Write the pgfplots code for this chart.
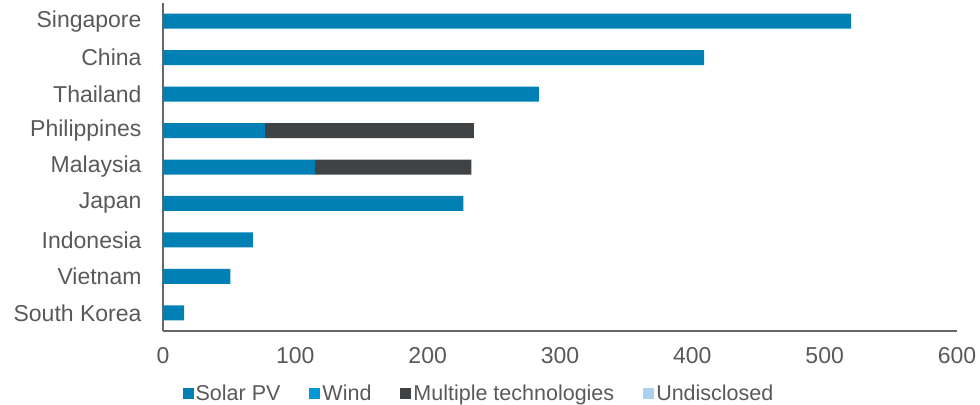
\documentclass[border=0pt]{standalone}
\usepackage{pgfplots}
\pgfplotsset{compat=1.18}
\usepackage{fontspec}
\setmainfont{Liberation Sans}
\definecolor{solar}{RGB}{0,128,180}
\definecolor{wind}{RGB}{0,153,214}
\definecolor{multi}{RGB}{64,67,69}
\definecolor{undis}{RGB}{171,209,238}
\definecolor{txt}{RGB}{89,89,89}
\definecolor{axl}{RGB}{100,104,108}
\begin{document}
\begin{tikzpicture}
\begin{axis}[
  name=ax,
  scale only axis,
  width=794pt, height=328pt,
  xbar stacked,
  bar width=15pt,
  xmin=0, xmax=600,
  ymin=-0.5, ymax=8.5,
  xtick={0,100,200,300,400,500,600},
  ytick={0,1,2,3,4,5,6,7,8},
  yticklabels={South Korea,Vietnam,Indonesia,Japan,Malaysia,Philippines,Thailand,China,Singapore},
  major tick length=0pt,
  axis x line*=bottom,
  axis y line*=left,
  axis line style={draw=axl, line width=1.2pt},
  tick label style={font=\fontsize{23}{27}\selectfont, text=txt},
  /pgf/number format/assume math mode=true,
  yticklabel style={xshift=-18pt},
  xticklabel style={yshift=-13pt},
  legend style={at={(0.398,-0.19)}, anchor=center, draw=none, fill=none,
    font=\fontsize{21.5}{25}\selectfont, text=txt, legend columns=4,
    /tikz/every even column/.append style={column sep=27pt}},
  legend image code/.code={\fill[#1] (0pt,-5.5pt) rectangle (11pt,5.5pt);},
]
\addplot[fill=solar, draw=none] coordinates {(16,0) (51,1) (68,2) (227,3) (115,4) (77,5) (284,6) (409,7) (520,8)};
\addplot[fill=wind, draw=none] coordinates {(0,0) (0,1) (0,2) (0,3) (0,4) (0,5) (0,6) (0,7) (0,8)};
\addplot[fill=multi, draw=none] coordinates {(0,0) (0,1) (0,2) (0,3) (118,4) (158,5) (0,6) (0,7) (0,8)};
\addplot[fill=undis, draw=none] coordinates {(0,0) (0,1) (0,2) (0,3) (0,4) (0,5) (0,6) (0,7) (0,8)};
\legend{Solar PV, Wind, Multiple technologies, Undisclosed}
\end{axis}
\pgfresetboundingbox
\path ([shift={(-163pt,-73pt)}]ax.south west) rectangle ([shift={(23pt,3pt)}]ax.north east);
\end{tikzpicture}
\end{document}
